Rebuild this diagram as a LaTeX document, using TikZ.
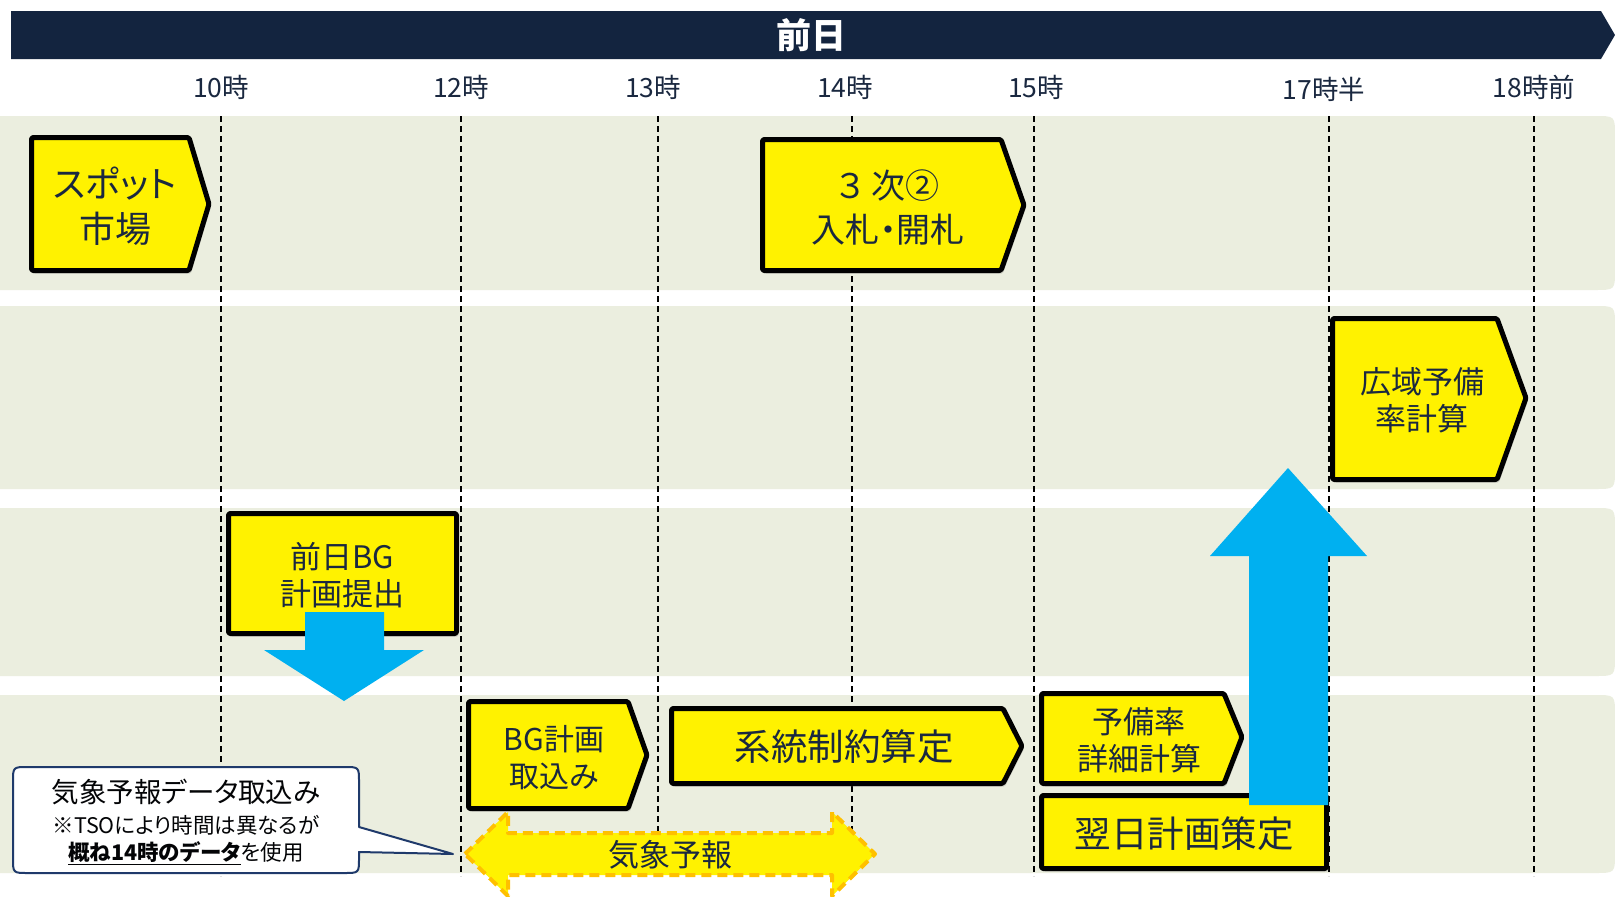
\documentclass[tikz,border=0pt]{standalone}
\usepackage{fontspec}
\setmainfont{Noto Sans CJK JP}[RawFeature=+palt]
\usetikzlibrary{shadows}
\definecolor{navy}{HTML}{13243F}
\definecolor{txt}{HTML}{1A2840}
\definecolor{band}{HTML}{EBEEDF}
\definecolor{sky}{HTML}{00B0F0}
\definecolor{amber}{HTML}{FFC000}
\definecolor{callln}{HTML}{1F3A6B}
\begin{document}
\begin{tikzpicture}[x=1pt,y=-1pt,
  ybox/.style={fill=yellow,draw=black,line width=5pt,line join=round,rounded corners=1.5pt,
    drop shadow={shadow xshift=2pt,shadow yshift=-3pt,opacity=0.3}},
  lbl/.style={text=txt,align=center,inner sep=0pt},
  tick/.style={text=txt,font=\fontsize{26.5}{30}\selectfont,inner sep=0pt},
  vline/.style={draw=black,line width=1.7pt,dash pattern=on 6pt off 4pt},
  blockarrow/.style={fill=sky},
  fcast/.style={fill=yellow,draw=amber,line width=4pt,dash pattern=on 10pt off 6pt,line join=round},
  callout/.style={fill=white,draw=callln,line width=2pt,line join=round}]

\useasboundingbox (0,0) rectangle (1615,897);
\fill[white] (0,0) rectangle (1615,897);

% bands
\foreach \t/\b in {116/290,306/489,508/676,695/873}{
  \fill[band] (0,\t) -- (1595,\t) .. controls (1615,\t) .. (1615,{\t+20})
    -- (1615,{\b-20}) .. controls (1615,\b) .. (1595,\b) -- (0,\b) -- cycle;
}

% title bar
\fill[navy] (11,11) -- (1601,11) -- (1615,35) -- (1601,59) -- (11,59) -- cycle;
\node[text=white,font=\bfseries\fontsize{35}{38}\selectfont,inner sep=0pt] (title) at (811,35) {前日};

% time labels
\node[tick] (t10) at (221,87) {10時};
\node[tick] (t12) at (461,87) {12時};
\node[tick] (t13) at (653,87) {13時};
\node[tick] (t14) at (845,87) {14時};
\node[tick] (t15) at (1036,87) {15時};
\node[tick] (t175) at (1324,89) {17時半};
\node[tick] (t18) at (1534,87) {18時前};

% dashed time lines
\foreach \x in {221,461,658,852,1034,1329,1534}{
  \draw[vline] (\x,116) -- (\x,876);
}

% boxes
\draw[ybox] (31.5,137.5) -- (189,137.5) -- (209,204) -- (189,270.5) -- (31.5,270.5) -- cycle;
\node[lbl,font=\fontsize{36}{45}\selectfont] (spot) at (115,206) {スポット\\市場};

\draw[ybox] (762.5,139.5) -- (1001,139.5) -- (1024,205) -- (1001,270.5) -- (762.5,270.5) -- cycle;
\node[lbl,font=\fontsize{34}{44}\selectfont] (bid) at (888,207) {３\hspace{0.25em}次②\\入札・開札};

\draw[ybox] (1332.5,318.5) -- (1497,318.5) -- (1526,398) -- (1497,479.5) -- (1332.5,479.5) -- cycle;
\node[lbl,font=\fontsize{31}{37}\selectfont] (wide) at (1422,400) {広域予備\\率計算};

\draw[ybox] (228.5,513.5) rectangle (456.5,633.5);
\node[lbl,font=\fontsize{31}{37}\selectfont] (bgsub) at (342,575) {前日BG\\計画提出};

\draw[ybox] (468.5,701.5) -- (628,701.5) -- (647,755) -- (628,808.5) -- (468.5,808.5) -- cycle;
\node[lbl,font=\fontsize{30}{37}\selectfont] (bgin) at (554,758) {BG計画\\取込み};

\draw[ybox] (671.5,708.5) -- (1003,708.5) -- (1022,746) -- (1003,783.5) -- (671.5,783.5) -- cycle;
\node[lbl,font=\fontsize{36.5}{40}\selectfont] (sys) at (844,747) {系統制約算定};

\draw[ybox] (1041.5,693.5) -- (1224,693.5) -- (1242,737) -- (1224,783.5) -- (1041.5,783.5) -- cycle;
\node[lbl,font=\fontsize{31}{37}\selectfont] (res) at (1139,740) {予備率\\詳細計算};

\draw[ybox] (1041.5,795.5) rectangle (1326.5,868.5);
\node[lbl,font=\fontsize{36.5}{40}\selectfont] (next) at (1184,834) {翌日計画策定};

% blue block arrows
\fill[blockarrow] (305,612) -- (384,612) -- (384,650) -- (424,650) -- (344,701) -- (264,650) -- (305,650) -- cycle;
\fill[blockarrow] (1249,805) -- (1249,556) -- (1210,556) -- (1288,468) -- (1367,556) -- (1328,556) -- (1328,805) -- cycle;

% weather forecast double arrow
\draw[fcast] (465,854) -- (508,812) -- (508,833) -- (832,833) -- (832,812) -- (875,854)
  -- (832,896) -- (832,875) -- (508,875) -- (508,896) -- cycle;
\node[lbl,font=\fontsize{31}{36}\selectfont] (wx) at (670,855) {気象予報};

% callout
\draw[callout] (28,767) -- (344,767) .. controls (359,767) .. (359,782) -- (359,827)
  -- (453,854) -- (359,852) -- (359,858) .. controls (359,873) .. (344,873)
  -- (28,873) .. controls (13,873) .. (13,858) -- (13,782) .. controls (13,767) .. (28,767) -- cycle;
\node[lbl,text=black!90!txt,font=\fontsize{27.5}{30}\selectfont] (c1) at (186,792) {気象予報データ取込み};
\node[lbl,text=black!90!txt,font=\fontsize{21.5}{24}\selectfont] (c2) at (186,825) {※TSOにより時間は異なるが};
\node[lbl,text=black!90!txt,font=\fontsize{21.5}{24}\selectfont] (c3) at (186,853) {\underline{\textbf{概ね14時のデータ}}を使用};

\end{tikzpicture}
\end{document}
